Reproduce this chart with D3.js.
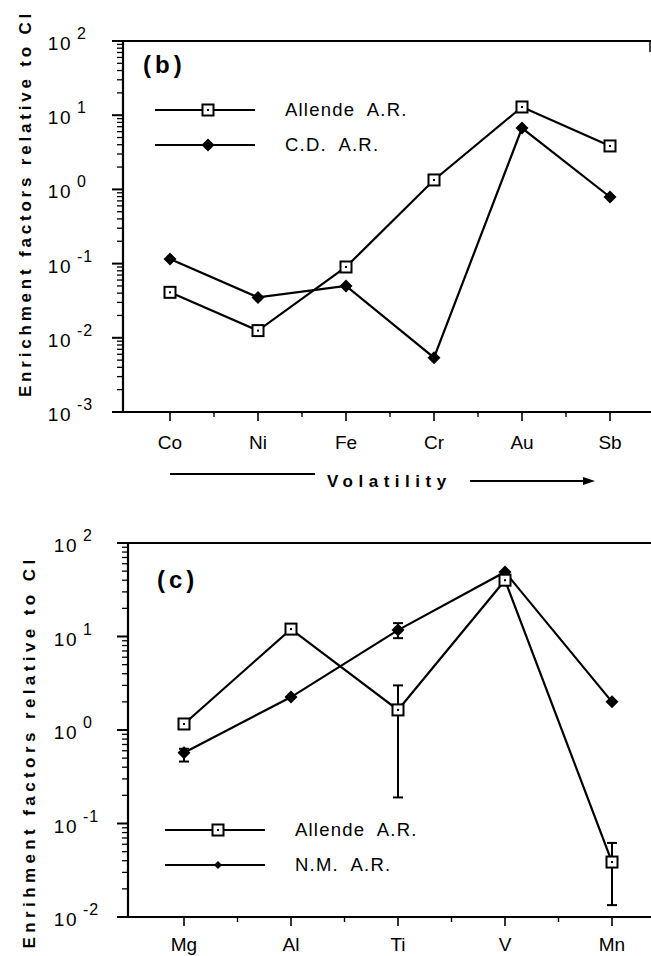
<!DOCTYPE html>
<html><head><meta charset="utf-8">
<script src="https://cdn.jsdelivr.net/npm/d3@7"></script>
<style>
body{margin:0;background:#fff;}
svg{display:block;font-family:"Liberation Sans",Arial,Helvetica,sans-serif;}
text{white-space:pre;}
</style></head>
<body>
<svg id="c" width="651" height="956"></svg>
<script>
// ---------- DATA ----------
const catsB = ["Co","Ni","Fe","Cr","Au","Sb"];
const allendeB = [0.041,0.0125,0.09,1.34,12.9,3.85];
const cdB = [0.115,0.035,0.05,0.0054,6.7,0.79];
const seriesNamesB = ["Allende  A.R.","C.D.  A.R."];

const catsC = ["Mg","Al","Ti","V","Mn"];
const allendeC = [1.16,12.0,1.64,40,0.0387];
const allendeCLo = [null,null,0.19,null,0.0134];
const allendeCHi = [null,null,3.0,null,0.062];
const nmC = [0.57,2.25,11.7,49,2.0];
const nmCLo = [0.46,null,9.6,null,null];
const nmCHi = [0.63,null,13.9,null,null];
const seriesNamesC = ["Allende  A.R.","N.M.  A.R."];

const yTicksB = [1e-3,1e-2,1e-1,1e0,1e1,1e2];
const yExpB = ["-3","-2","-1","0","1","2"];
const yTicksC = [1e-2,1e-1,1e0,1e1,1e2];
const yExpC = ["-2","-1","0","1","2"];

const svg = d3.select("#c");

function squareMarker(g, x, y){
  g.append("rect").attr("x",x-5.5).attr("y",y-5.5).attr("width",11).attr("height",11)
    .attr("fill","#fff").attr("stroke","#000").attr("stroke-width",2);
  g.append("rect").attr("x",x-1).attr("y",y-1).attr("width",2).attr("height",2).attr("fill","#000");
}
function diamondMarker(g, x, y, s){
  s = s||6.5;
  g.append("path").attr("d",`M${x},${y-s}L${x+s},${y}L${x},${y+s}L${x-s},${y}Z`).attr("fill","#000");
}

function panel(o){
  const g = svg.append("g");
  const x = d3.scaleBand().domain(o.cats).range(o.xr).padding(0);
  const y = d3.scaleLog().domain(o.yd).range(o.yr);
  const axL = o.axisX, bottom = o.yr[0], top = o.yr[1];
  // frame
  g.append("line").attr("x1",axL).attr("x2",axL).attr("y1",top).attr("y2",bottom).attr("stroke","#000").attr("stroke-width",2.2);
  g.append("line").attr("x1",axL-5).attr("x2",651).attr("y1",bottom).attr("y2",bottom).attr("stroke","#000").attr("stroke-width",2.2);
  g.append("line").attr("x1",axL-5).attr("x2",651).attr("y1",top).attr("y2",top).attr("stroke","#000").attr("stroke-width",2);
  if(o.rightTick) g.append("line").attr("x1",650).attr("x2",650).attr("y1",top).attr("y2",top+11).attr("stroke","#000").attr("stroke-width",1.5);
  // y minor ticks
  const e0 = Math.log10(o.yd[0]), e1 = Math.log10(o.yd[1]);
  for(let e=e0;e<e1;e++){
    for(let m=2;m<=9;m++){
      const v = m*Math.pow(10,e);
      g.append("line").attr("x1",axL-6).attr("x2",axL).attr("y1",y(v)).attr("y2",y(v)).attr("stroke","#000").attr("stroke-width",1.3);
    }
  }
  o.yTicks.forEach((v,i)=>{
    g.append("line").attr("x1",axL-11).attr("x2",axL).attr("y1",y(v)).attr("y2",y(v)).attr("stroke","#000").attr("stroke-width",2);
    g.append("text").attr("x",o.labX).attr("y",y(v)+9).attr("font-size",19).attr("text-anchor","end").attr("letter-spacing",1.5).text("10");
    g.append("text").attr("x",o.labX+5).attr("y",y(v)-2).attr("font-size",16).attr("letter-spacing",1).text(o.yExp[i]);
  });
  // x ticks: major at centers, minor at band edges
  o.cats.forEach(c=>{
    const cx = x(c)+x.bandwidth()/2;
    g.append("line").attr("x1",cx).attr("x2",cx).attr("y1",bottom).attr("y2",bottom+9).attr("stroke","#000").attr("stroke-width",1.6);
    g.append("text").attr("x",cx).attr("y",bottom+o.xLabDy).attr("font-size",19).attr("text-anchor","middle").text(c);
  });
  o.cats.slice(1).forEach(c=>{
    const ex = x(c);
    g.append("line").attr("x1",ex).attr("x2",ex).attr("y1",bottom).attr("y2",bottom+5).attr("stroke","#000").attr("stroke-width",1.4);
  });
  // y title
  g.append("text").attr("transform",`translate(${o.titleX},${(top+bottom)/2+o.titleDy}) rotate(-90)`)
    .attr("font-size",17).attr("font-weight","bold").attr("letter-spacing",o.titleLS).attr("text-anchor","middle").text(o.title);
  // panel label
  g.append("text").attr("x",o.pl[0]).attr("y",o.pl[1]).attr("font-size",24).attr("font-weight","bold").attr("letter-spacing",4).text(o.panelLabel);

  const cx = c=>x(c)+x.bandwidth()/2;
  const line = d3.line().x((d,i)=>cx(o.cats[i])).y(d=>y(d));
  // error bars
  const drawErr = (lo,hi)=>{
    lo.forEach((l,i)=>{
      if(l==null) return;
      const xx = cx(o.cats[i]);
      g.append("line").attr("x1",xx).attr("x2",xx).attr("y1",y(l)).attr("y2",y(hi[i])).attr("stroke","#000").attr("stroke-width",2);
      [l,hi[i]].forEach(v=>g.append("line").attr("x1",xx-5).attr("x2",xx+5).attr("y1",y(v)).attr("y2",y(v)).attr("stroke","#000").attr("stroke-width",2));
    });
  };
  g.append("path").datum(o.s2).attr("d",line).attr("fill","none").attr("stroke","#000").attr("stroke-width",2.2);
  g.append("path").datum(o.s1).attr("d",line).attr("fill","none").attr("stroke","#000").attr("stroke-width",2.2);
  if(o.s2lo) drawErr(o.s2lo,o.s2hi);
  if(o.s1lo) drawErr(o.s1lo,o.s1hi);
  o.s2.forEach((v,i)=>diamondMarker(g,cx(o.cats[i]),y(v)));
  o.s1.forEach((v,i)=>squareMarker(g,cx(o.cats[i]),y(v)));
  // legend
  const L = o.legend;
  g.append("line").attr("x1",L.x1).attr("x2",L.x2).attr("y1",L.y1).attr("y2",L.y1).attr("stroke","#000").attr("stroke-width",1.8);
  squareMarker(g,(L.x1+L.x2)/2+3,L.y1);
  g.append("line").attr("x1",L.x1).attr("x2",L.x2).attr("y1",L.y2).attr("y2",L.y2).attr("stroke","#000").attr("stroke-width",1.8);
  diamondMarker(g,(L.x1+L.x2)/2+3,L.y2,L.ds);
  g.append("text").attr("x",L.tx).attr("y",L.y1+6).attr("font-size",18.5).attr("letter-spacing",1.2).text(o.names[0]);
  g.append("text").attr("x",L.tx).attr("y",L.y2+6).attr("font-size",18.5).attr("letter-spacing",1.2).text(o.names[1]);
}

panel({cats:catsB, xr:[126,654], yd:[1e-3,1e2], yr:[412,41], axisX:123,
  yTicks:yTicksB, yExp:yExpB, labX:72, xLabDy:37, rightTick:true,
  title:"Enrichment factors relative to Cl", titleX:31, titleDy:-23, titleLS:3.8,
  panelLabel:"(b)", pl:[143,73],
  s1:allendeB, s2:cdB, names:seriesNamesB,
  legend:{x1:155,x2:255,y1:110,y2:145,tx:285,ds:6.5}});

panel({cats:catsC, xr:[130.5,665.5], yd:[1e-2,1e2], yr:[917,543], axisX:128,
  yTicks:yTicksC, yExp:yExpC, labX:78, xLabDy:34, rightTick:false,
  title:"Enrihment factors relative to Cl", titleX:35, titleDy:22, titleLS:4.4,
  panelLabel:"(c)", pl:[157,588],
  s1:allendeC, s2:nmC, s1lo:allendeCLo, s1hi:allendeCHi, s2lo:nmCLo, s2hi:nmCHi, names:seriesNamesC,
  legend:{x1:165,x2:265,y1:830,y2:865,tx:295,ds:4}});

// Volatility annotation
svg.append("line").attr("x1",170).attr("x2",315).attr("y1",474).attr("y2",474).attr("stroke","#000").attr("stroke-width",2);
svg.append("text").attr("x",327).attr("y",487).attr("font-size",17).attr("font-weight","bold").attr("letter-spacing",5.5).text("Volatility");
svg.append("line").attr("x1",470).attr("x2",585).attr("y1",481).attr("y2",481).attr("stroke","#000").attr("stroke-width",2);
svg.append("path").attr("d","M583,477L595,481L583,485Z").attr("fill","#000");
</script>
</body></html>
